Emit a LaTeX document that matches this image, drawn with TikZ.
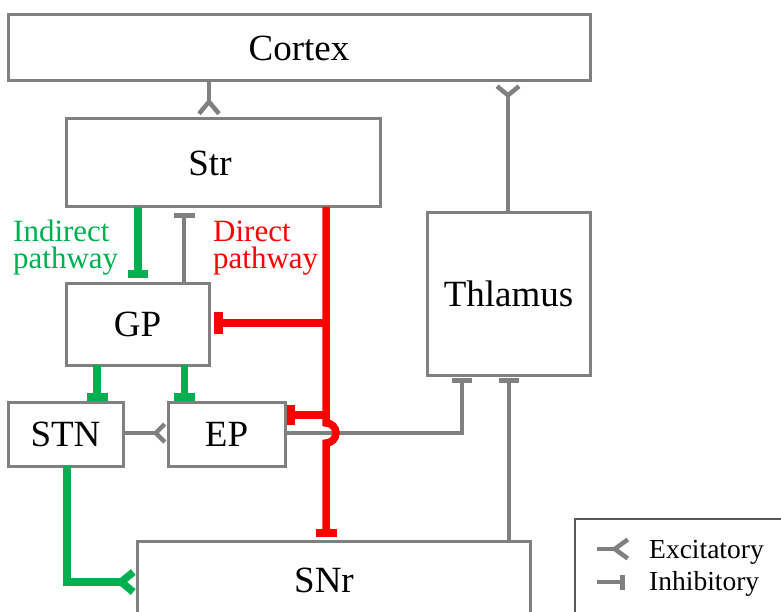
\documentclass[tikz,border=0pt]{standalone}
\usepackage{fontspec}
\setmainfont{Liberation Serif}
\usetikzlibrary{arrows.meta}
\definecolor{gr}{RGB}{128,128,128}
\definecolor{legbd}{RGB}{90,90,90}
\definecolor{grn}{RGB}{0,176,80}
\definecolor{rd}{RGB}{255,0,0}
\begin{document}
\begin{tikzpicture}[x=1pt,y=-1pt,
  box/.style={draw=gr, line width=3pt, inner sep=0pt, outer sep=0pt, anchor=north west,
              font=\fontsize{37}{40}\selectfont},
  boxtext/.style={inner sep=0pt, font=\fontsize{37}{40}\selectfont},
  gline/.style={draw=gr, line width=4.5pt},
  gnline/.style={draw=grn, line width=7.5pt},
  rline/.style={draw=rd, line width=7.5pt},
  inh/.style 2 args={-{Rectangle[length=#1,width=#2,line width=0pt]}},
  exc/.style 2 args={-{Straight Barb[reversed,length=#1,width=#2]}},
  lab/.style={anchor=base west, inner sep=0pt, font=\fontsize{31}{28}\selectfont},
  legtext/.style={anchor=base west, inner sep=0pt, font=\fontsize{27.5}{30}\selectfont}
]
\useasboundingbox (0,0) rectangle (781,612);

% boxes
\node[box, minimum width=582pt, minimum height=66pt] (cortex) at (8,15) {Cortex};
\node[box, minimum width=314pt, minimum height=88pt] (str) at (66,119) {};
\node[boxtext] (strt) at (210,163) {Str};
\node[box, minimum width=163pt, minimum height=162pt] (thal) at (427,213) {Thlamus};
\node[box, minimum width=143pt, minimum height=82pt] (gp) at (66,283) {GP};
\node[box, minimum width=115pt, minimum height=64pt] (stn) at (8,402) {STN};
\node[box, minimum width=117pt, minimum height=64pt] (ep) at (168,402) {EP};
\node[box, minimum width=393pt, minimum height=78pt] (snr) at (137,541) {};
\node[boxtext] (snrt) at (324,580) {SNr};

% labels
\node[lab, text=grn] (lind1) at (13,242) {Indirect};
\node[lab, text=grn] (lind2) at (13,269) {pathway};
\node[lab, text=rd] (ldir1) at (213,242) {Direct};
\node[lab, text=rd] (ldir2) at (213,269) {pathway};

% gray connectors
\draw[gline, exc={12pt}{20pt}, shorten >=3pt] (cortex.south -| 209,0) -- (str.north -| 209,0);
\draw[gline, exc={9pt}{22pt}, shorten >=3pt] (thal.north -| 508,0) -- (cortex.south -| 508,0);
\draw[gline, exc={9pt}{18pt}, shorten >=1pt] (stn.east |- 0,433) -- (ep.west |- 0,433);
\draw[gline, inh={5pt}{21pt}, shorten >=6pt] (gp.north -| 184,0) -- (str.south -| 184,0);
\draw[gline, inh={5pt}{20pt}, shorten >=3pt] (ep.east |- 0,433) -| (thal.south -| 462,0);
\draw[gline, inh={5pt}{20pt}, shorten >=3pt] (snr.north -| 509,0) -- (thal.south -| 509,0);

% green connectors
\draw[gnline, inh={8pt}{20pt}, shorten >=5pt] (str.south -| 138,0) -- (gp.north -| 138,0);
\draw[gnline, inh={8pt}{21pt}, shorten >=1pt] (gp.south -| 97,0) -- (stn.north -| 97,0);
\draw[gnline, inh={8pt}{21pt}, shorten >=1pt] (gp.south -| 184.5,0) -- (ep.north -| 184.5,0);
\draw[gnline, exc={12pt}{20pt}] (stn.south -| 67,0) |- (snr.west |- 0,582);

% red connectors
\coordinate (j1) at (326,323);
\coordinate (j2) at (326,415);
\draw[rline, inh={8pt}{21pt}, shorten >=4pt] (str.south -| 326,0) -- (326,423)
   arc[start angle=-90, end angle=90, radius=10] -- (snr.north -| 326,0);
\draw[rline, inh={9pt}{22pt}, shorten >=5pt] (j1) -- (gp.east |- j1);
\draw[rline, inh={8pt}{20pt}, shorten >=2pt] (j2) -- (ep.east |- j2);

% legend
\draw[legbd, line width=2pt] (575,519) rectangle (800,640);
\coordinate (le1) at (597,549);
\coordinate (le2) at (630,549);
\coordinate (li1) at (597,582);
\coordinate (li2) at (625,582);
\draw[gline, exc={13pt}{19pt}] (le1) -- (le2);
\draw[gline, inh={5pt}{15pt}] (li1) -- (li2);
\node[legtext] (lexc) at (649,558) {Excitatory};
\node[legtext] (linh) at (649,590) {Inhibitory};
\end{tikzpicture}
\end{document}
